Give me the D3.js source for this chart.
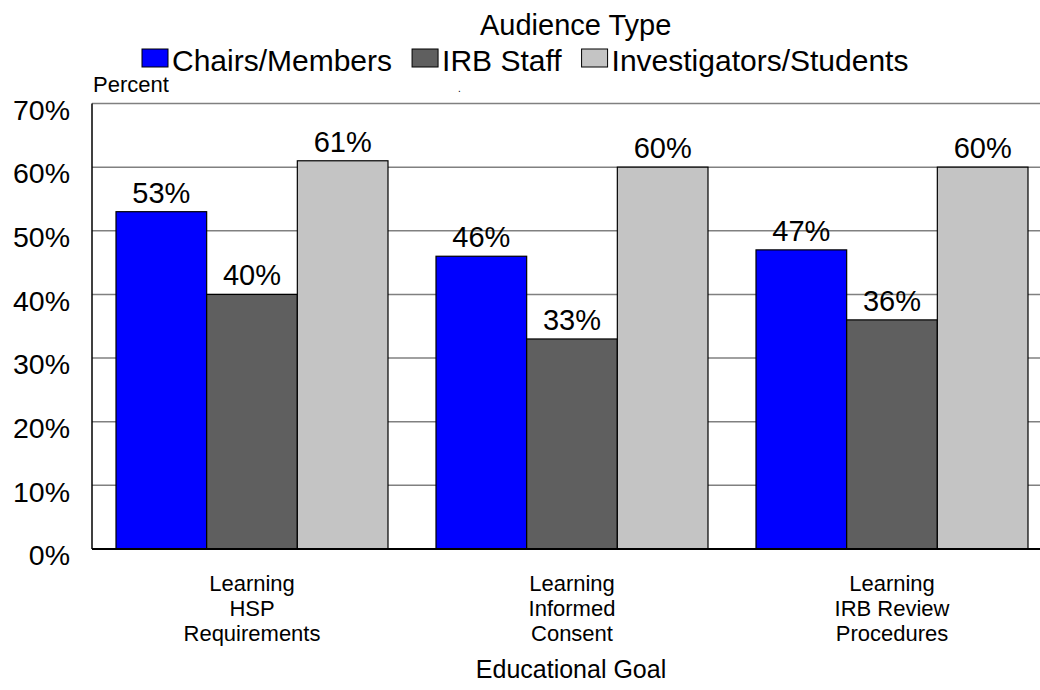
<!doctype html>
<html lang="en">
<head>
  <meta charset="utf-8">
  <title>Educational goal by audience type</title>
  <style>
    * { margin: 0; padding: 0; box-sizing: border-box; }
    body { background: #fff; }
    svg { display: block; font-family: "Liberation Sans", Arial, sans-serif; }
  </style>
</head>
<body>
  <div class="chart"></div>
  <script src="https://cdn.jsdelivr.net/npm/d3@7"></script>
  <script>
    // ---------------------------------------------------------------
    //@@ data
    const categories = ['HSP', 'Consent', 'IRB'];
    const categoryLines = [
      ['Learning', 'HSP', 'Requirements'],
      ['Learning', 'Informed', 'Consent'],
      ['Learning', 'IRB Review', 'Procedures']
    ];
    const seriesNames = ['Chairs/Members', 'IRB Staff', 'Investigators/Students'];
    const chairsMembers = [53, 46, 47];
    const irbStaff = [40, 33, 36];
    const investigatorsStudents = [61, 60, 60];
    const yTicks = [0, 10, 20, 30, 40, 50, 60, 70];

    const seriesValues = [chairsMembers, irbStaff, investigatorsStudents];
    const colors = ['#0000ff', '#5f5f5f', '#c4c4c4'];

    // ---------------------------------------------------------------
    //@@ svg
    const W = 1040, H = 690;
    const plot = {l: 92, r: 1052, t: 103.5, b: 549};

    const svg = d3.select('.chart').append('svg')
      .attr('width', W)
      .attr('height', H);

    //@@ scales
    const x0 = d3.scaleBand()
      .domain(categories)
      .range([plot.l, plot.r])
      .paddingInner(0.15)
      .paddingOuter(0.075);

    const x1 = d3.scaleBand()
      .domain(seriesNames)
      .range([0, x0.bandwidth()]);

    const y = d3.scaleLinear().domain([0, 70]).range([plot.b, plot.t]);

    //@@ gridlines
    svg.append('g')
      .selectAll('line')
      .data(yTicks.filter(d => d > 0))
      .join('line')
      .attr('x1', plot.l).attr('x2', W)
      .attr('y1', d => y(d)).attr('y2', d => y(d))
      .attr('stroke', '#808080')
      .attr('stroke-width', 1.5);

    //@@ y axis labels
    const axisY = d3.axisLeft(y)
      .tickValues(yTicks)
      .tickFormat(d => d + '%')
      .tickSize(0)
      .tickPadding(22);
    const gY = svg.append('g')
      .attr('transform', `translate(${plot.l},0)`)
      .call(axisY);
    gY.select('.domain').remove();
    gY.selectAll('text')
      .attr('font-family', '"Liberation Sans", Arial, sans-serif')
      .attr('font-size', 28.5)
      .attr('fill', '#000')
      .attr('dy', '0.55em');

    //@@ bars
    const groups = svg.append('g')
      .selectAll('g')
      .data(categories)
      .join('g')
      .attr('transform', d => `translate(${x0(d)},0)`);

    groups.each(function(cat, ci) {
      const g = d3.select(this);
      const rows = seriesNames.map((s, si) => ({s, si, v: seriesValues[si][ci]}));
      g.selectAll('rect')
        .data(rows)
        .join('rect')
        .attr('x', d => x1(d.s))
        .attr('y', d => y(d.v))
        .attr('width', x1.bandwidth())
        .attr('height', d => y(0) - y(d.v))
        .attr('fill', d => colors[d.si])
        .attr('stroke', '#000')
        .attr('stroke-width', 1.2);

      g.selectAll('text.val')
        .data(rows)
        .join('text')
        .attr('class', 'val')
        .attr('x', d => x1(d.s) + x1.bandwidth() / 2)
        .attr('y', d => y(d.v) - 9)
        .attr('text-anchor', 'middle')
        .attr('font-size', 29)
        .text(d => d.v + '%');
    });

    //@@ axes lines
    svg.append('line')
      .attr('x1', plot.l).attr('x2', plot.l)
      .attr('y1', plot.t).attr('y2', plot.b)
      .attr('stroke', '#000').attr('stroke-width', 1.5);
    svg.append('line')
      .attr('x1', plot.l).attr('x2', W)
      .attr('y1', plot.b).attr('y2', plot.b)
      .attr('stroke', '#000').attr('stroke-width', 2);

    //@@ category labels
    const catLabels = svg.append('g')
      .selectAll('text')
      .data(categories)
      .join('text')
      .attr('text-anchor', 'middle')
      .attr('font-size', 22);
    catLabels.each(function(d, i) {
      d3.select(this).selectAll('tspan')
        .data(categoryLines[i])
        .join('tspan')
        .attr('x', x0(d) + x0.bandwidth() / 2)
        .attr('y', (t, j) => 591 + j * 25)
        .text(t => t);
    });

    //@@ axis titles
    svg.append('text')
      .attr('x', 571).attr('y', 678)
      .attr('text-anchor', 'middle')
      .attr('font-size', 25)
      .text('Educational Goal');

    svg.append('text')
      .attr('x', 93).attr('y', 92)
      .attr('font-size', 22)
      .text('Percent');

    svg.append('text')
      .attr('x', 458).attr('y', 92)
      .attr('font-size', 10)
      .text('.');

    //@@ legend
    svg.append('text')
      .attr('x', 480).attr('y', 35)
      .attr('font-size', 29)
      .text('Audience Type');

    const legend = svg.append('g');
    let lx = 142;
    seriesNames.forEach((s, i) => {
      legend.append('rect')
        .attr('x', lx).attr('y', 49)
        .attr('width', 26).attr('height', 18)
        .attr('fill', colors[i])
        .attr('stroke', '#000')
        .attr('stroke-width', 1);
      const t = legend.append('text')
        .attr('x', lx + 30).attr('y', 71)
        .attr('font-size', 30)
        .text(s);
      lx += 30 + t.node().getComputedTextLength() + 20;
    });
  </script>
</body>
</html>
